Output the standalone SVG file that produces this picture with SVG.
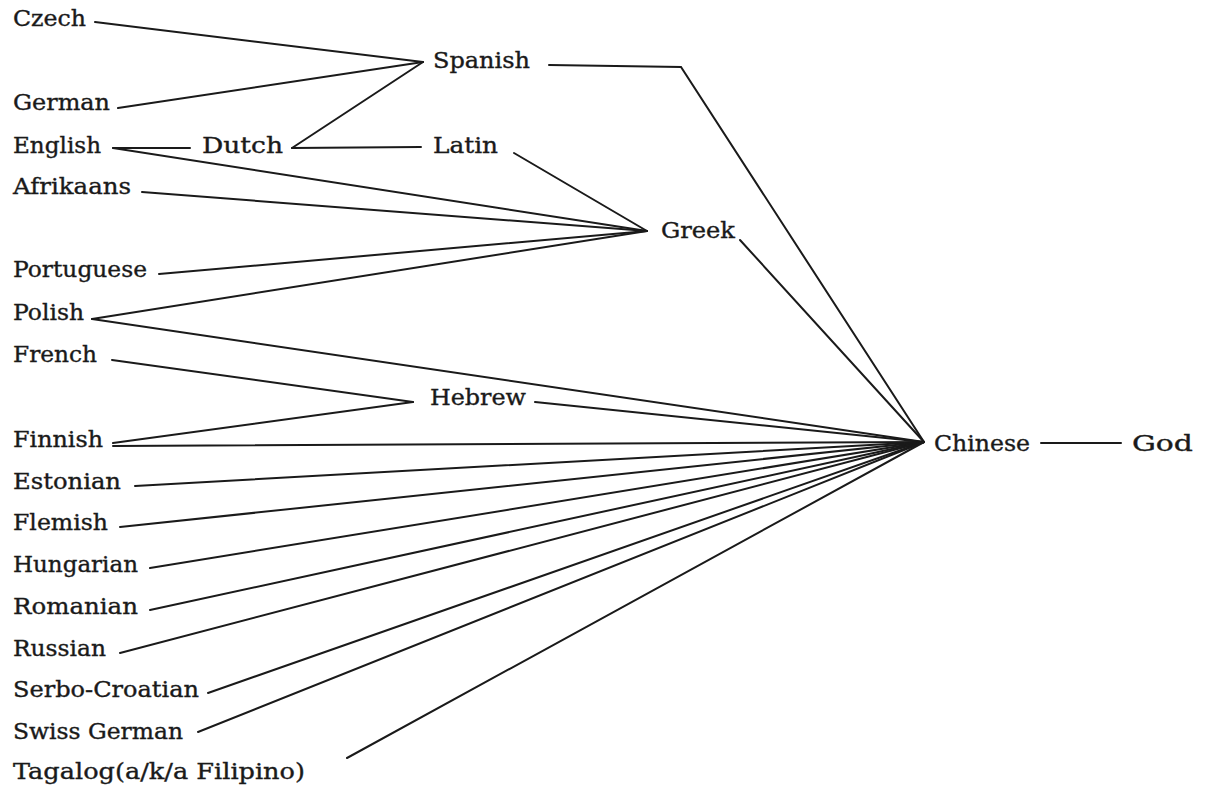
<svg xmlns="http://www.w3.org/2000/svg" width="1205" height="787" viewBox="0 0 1205 787">
<style>
text{font-family:"DejaVu Serif","Liberation Serif",serif;font-size:21.5px;fill:#1a1a1a;stroke:#1a1a1a;stroke-width:0.35}
#connectors line,#connectors polyline{stroke:#1a1a1a;stroke-width:2;fill:none;stroke-linecap:round}
</style>
<rect width="1205" height="787" fill="#fff"/>
<g id="connectors">
<line x1="95" y1="22" x2="423" y2="62"/>
<line x1="118" y1="108" x2="423" y2="62"/>
<line x1="292" y1="148" x2="423" y2="62"/>
<line x1="113" y1="148" x2="190" y2="148"/>
<line x1="292" y1="148" x2="421" y2="147"/>
<line x1="113" y1="148" x2="647" y2="231"/>
<line x1="514" y1="153" x2="647" y2="231"/>
<line x1="142" y1="192" x2="647" y2="231"/>
<line x1="159" y1="274" x2="647" y2="231"/>
<line x1="92" y1="319" x2="647" y2="231"/>
<line x1="92" y1="319" x2="924" y2="442"/>
<polyline points="549,65 681,67 924,442"/>
<line x1="740" y1="240" x2="924" y2="442"/>
<line x1="112" y1="360" x2="413" y2="402"/>
<line x1="113" y1="443" x2="413" y2="402"/>
<line x1="535" y1="402" x2="924" y2="442"/>
<line x1="113" y1="446" x2="924" y2="442"/>
<line x1="135" y1="486" x2="924" y2="442"/>
<line x1="120" y1="527" x2="924" y2="442"/>
<line x1="150" y1="568" x2="924" y2="442"/>
<line x1="150" y1="610" x2="924" y2="442"/>
<line x1="120" y1="653" x2="924" y2="442"/>
<line x1="208" y1="693" x2="924" y2="442"/>
<line x1="198" y1="732" x2="924" y2="442"/>
<line x1="347" y1="758" x2="924" y2="442"/>
<line x1="1041" y1="443" x2="1121" y2="443"/>
</g>
<g id="czech"><text x="13" y="26" textLength="73" lengthAdjust="spacingAndGlyphs">Czech</text></g>
<g id="german"><text x="13" y="110" textLength="97" lengthAdjust="spacingAndGlyphs">German</text></g>
<g id="english"><text x="13" y="153" textLength="88" lengthAdjust="spacingAndGlyphs">English</text></g>
<g id="dutch"><text x="202" y="153" textLength="81" lengthAdjust="spacingAndGlyphs">Dutch</text></g>
<g id="spanish"><text x="433" y="68" textLength="97" lengthAdjust="spacingAndGlyphs">Spanish</text></g>
<g id="latin"><text x="433" y="153" textLength="65" lengthAdjust="spacingAndGlyphs">Latin</text></g>
<g id="afrikaans"><text x="13" y="194" textLength="118" lengthAdjust="spacingAndGlyphs">Afrikaans</text></g>
<g id="greek"><text x="661" y="238" textLength="74" lengthAdjust="spacingAndGlyphs">Greek</text></g>
<g id="portuguese"><text x="13" y="277" textLength="134" lengthAdjust="spacingAndGlyphs">Portuguese</text></g>
<g id="polish"><text x="13" y="320" textLength="71" lengthAdjust="spacingAndGlyphs">Polish</text></g>
<g id="french"><text x="13" y="362" textLength="84" lengthAdjust="spacingAndGlyphs">French</text></g>
<g id="hebrew"><text x="430" y="405" textLength="96" lengthAdjust="spacingAndGlyphs">Hebrew</text></g>
<g id="finnish"><text x="13" y="447" textLength="90" lengthAdjust="spacingAndGlyphs">Finnish</text></g>
<g id="estonian"><text x="13" y="489" textLength="108" lengthAdjust="spacingAndGlyphs">Estonian</text></g>
<g id="flemish"><text x="13" y="530" textLength="95" lengthAdjust="spacingAndGlyphs">Flemish</text></g>
<g id="hungarian"><text x="13" y="572" textLength="125" lengthAdjust="spacingAndGlyphs">Hungarian</text></g>
<g id="romanian"><text x="13" y="614" textLength="125" lengthAdjust="spacingAndGlyphs">Romanian</text></g>
<g id="russian"><text x="13" y="656" textLength="93" lengthAdjust="spacingAndGlyphs">Russian</text></g>
<g id="serbo-croatian"><text x="13" y="697" textLength="186" lengthAdjust="spacingAndGlyphs">Serbo-Croatian</text></g>
<g id="swiss-german"><text x="13" y="739" textLength="170" lengthAdjust="spacingAndGlyphs">Swiss German</text></g>
<g id="tagalog"><text x="13" y="779" textLength="292" lengthAdjust="spacingAndGlyphs">Tagalog(a/k/a Filipino)</text></g>
<g id="chinese"><text x="934" y="451" textLength="96" lengthAdjust="spacingAndGlyphs">Chinese</text></g>
<g id="god"><text x="1132" y="451" textLength="61" lengthAdjust="spacingAndGlyphs">God</text></g>
</svg>
